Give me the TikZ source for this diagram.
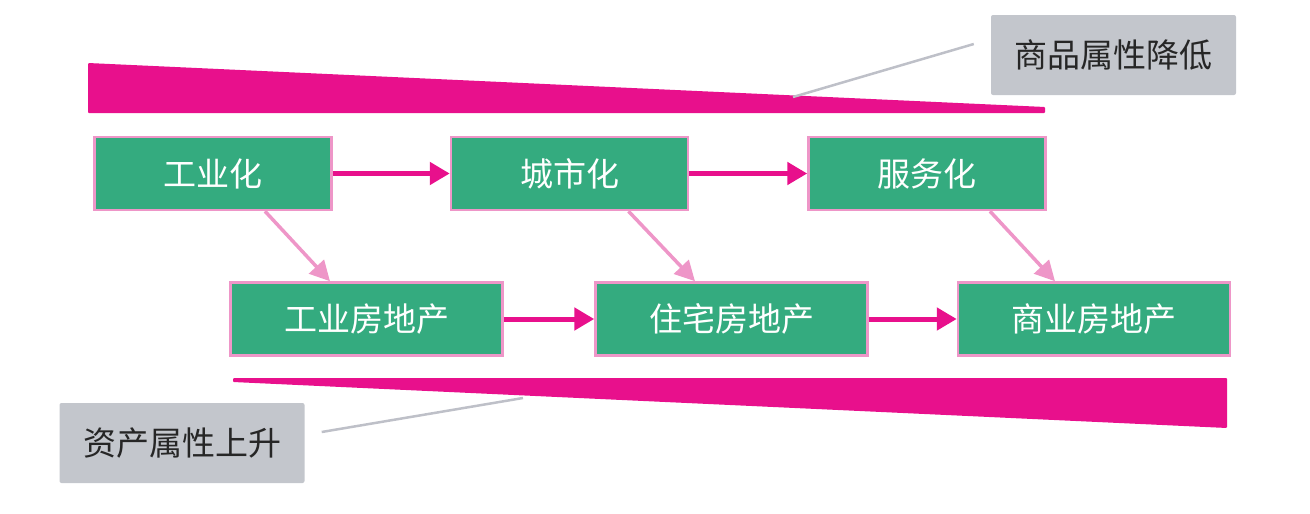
\documentclass[tikz,border=0pt]{standalone}
\usepackage{fontspec}
\newfontfamily\cjk{Noto Sans CJK SC}
\usetikzlibrary{calc,positioning,arrows.meta}
\definecolor{StageGreen}{RGB}{52,171,127}
\definecolor{EdgePink}{RGB}{238,150,200}
\definecolor{WedgeMagenta}{RGB}{232,16,140}
\definecolor{TagGray}{RGB}{195,198,204}
\definecolor{LeadGray}{RGB}{190,192,200}
\tikzset{
    stagebox/.style={draw=EdgePink,line width=2.5pt,fill=StageGreen,text=white,
        minimum width=237pt,minimum height=73pt,inner sep=0pt,font=\cjk\fontsize{33}{38}\selectfont},
    estatebox/.style={stagebox,minimum width=272pt},
    tagbox/.style={fill=TagGray,rounded corners=2pt,text=black!85,minimum width=245pt,
        minimum height=80pt,inner sep=0pt,font=\cjk\fontsize{33}{38}\selectfont},
    flow/.style={line width=5pt,WedgeMagenta,-{Triangle[length=20pt,width=22pt]}},
    drop/.style={line width=3.5pt,EdgePink,-{Triangle[length=20pt,width=20pt]}},
    lead/.style={line width=2.5pt,LeadGray}
}
\begin{document}
\begin{tikzpicture}[x=1pt,y=-1pt]
		\useasboundingbox (0,0) rectangle (1310,514);
		% wedges
		\fill[WedgeMagenta,rounded corners=1pt] (88,63) -- (1045,107) -- (1045,113) -- (88,113) -- cycle;
		\fill[WedgeMagenta,rounded corners=1pt] (233,378) -- (1227,378) -- (1227,428) -- (233,382) -- cycle;
		% stages
		\node[stagebox] (ind) at (213,173.5) {工业化};
		\node[stagebox] (urb) at (569.5,173.5) {城市化};
		\node[stagebox] (srv) at (927,173.5) {服务化};
		\node[estatebox] (indre) at (366.5,319) {工业房地产};
		\node[estatebox] (resre) at (731.5,319) {住宅房地产};
		\node[estatebox] (comre) at (1094,319) {商业房地产};
		% arrows
		\draw[flow] (ind) -- (urb);
		\draw[flow] (urb) -- (srv);
		\draw[flow] (indre) -- (resre);
		\draw[flow] (resre) -- (comre);
		\draw[drop] (ind.south) ++(52,0) -- (indre.north -| 330,0);
		\draw[drop] (urb.south) ++(59,0) -- (resre.north -| 695,0);
		\draw[drop] (srv.south) ++(63,0) -- (comre.north -| 1055,0);
		% tags
		\node[tagbox] (down) at (1113.5,55) {商品属性降低};
		\node[tagbox] (up) at (182,443) {资产属性上升};
		\coordinate (downtip) at (793,97);
		\coordinate (uptip) at (523,398);
		\draw[lead] ($(down.west)+(-17,-11)$) -- (downtip);
		\draw[lead] ($(up.east)+(17,-11)$) -- (uptip);
\end{tikzpicture}
\end{document}
